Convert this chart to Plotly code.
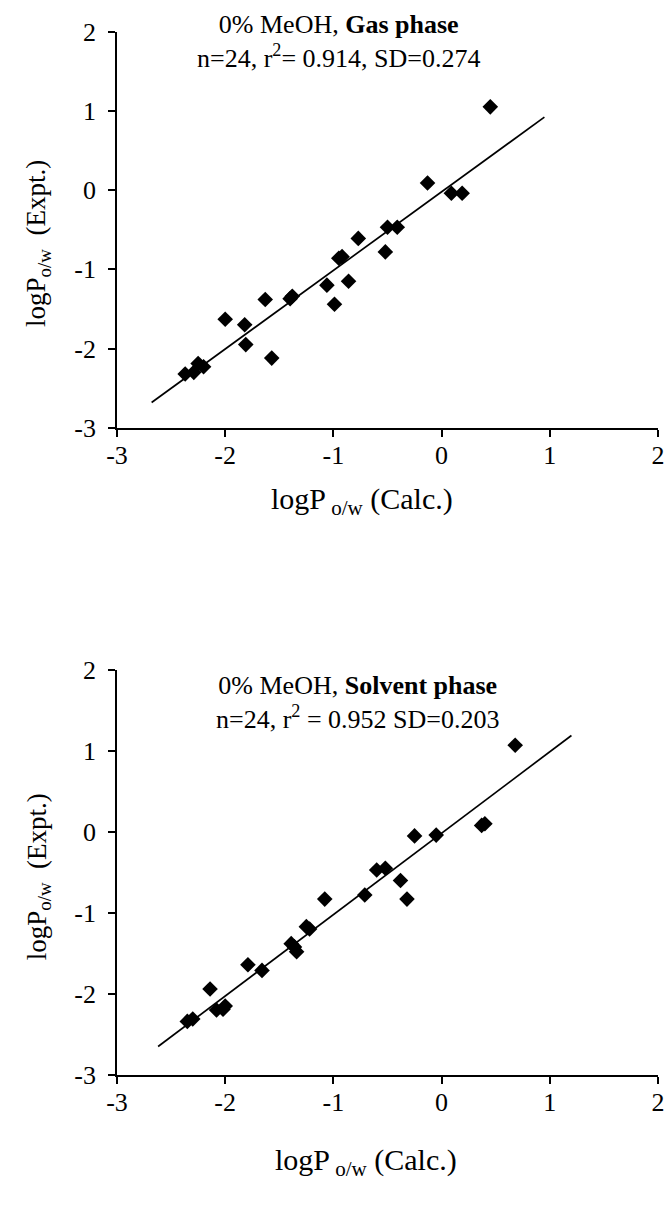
import plotly.graph_objects as go

# Gas phase model: calculated vs experimental logP(o/w), 0% MeOH
gas_calc = [0.45, -0.13, 0.09, 0.19, -0.50, -0.41, -0.77, -0.92, -0.95, -0.52,
            -0.86, -1.06, -0.99, -1.40, -1.38, -1.63, -2.00, -1.82, -1.81, -1.57,
            -2.37, -2.29, -2.25, -2.20]
gas_expt = [1.05, 0.09, -0.04, -0.04, -0.47, -0.47, -0.61, -0.84, -0.86, -0.78,
            -1.15, -1.20, -1.44, -1.37, -1.34, -1.38, -1.63, -1.70, -1.95, -2.12,
            -2.32, -2.30, -2.19, -2.23]
gas_fit_x = [-2.68, 0.95]
gas_fit_y = [-2.68, 0.92]

# Solvent phase model
sol_calc = [0.68, 0.40, 0.37, -0.25, -0.05, -0.60, -0.52, -0.38, -0.32, -0.71,
            -1.08, -1.22, -1.25, -1.39, -1.34, -1.36, -1.79, -1.66, -2.14, -2.08,
            -2.00, -2.02, -2.30, -2.35]
sol_expt = [1.07, 0.10, 0.08, -0.05, -0.04, -0.47, -0.45, -0.60, -0.83, -0.78,
            -0.83, -1.20, -1.17, -1.38, -1.48, -1.42, -1.64, -1.71, -1.94, -2.20,
            -2.15, -2.19, -2.31, -2.34]
sol_fit_x = [-2.62, 1.20]
sol_fit_y = [-2.65, 1.19]

tick_vals = [-3, -2, -1, 0, 1, 2]
tick_text = ["-3", "-2", "-1", "0", "1", "2"]

W, H = 668, 1207
ML, MR = 116.5, 10
PW = W - ML - MR

SERIF = "Liberation Serif, Times New Roman, serif"


def py(pix):
    return 1 - pix / H


def px(pix):
    return (pix - ML) / PW


fig = go.Figure()

panels = [
    (gas_calc, gas_expt, gas_fit_x, gas_fit_y, "x", "y"),
    (sol_calc, sol_expt, sol_fit_x, sol_fit_y, "x2", "y2"),
]
for cx, ey, fx, fy, xa, ya in panels:
    fig.add_trace(go.Scatter(x=fx, y=fy, mode="lines",
                             line=dict(color="black", width=1.7),
                             xaxis=xa, yaxis=ya, showlegend=False,
                             hoverinfo="skip"))
    fig.add_trace(go.Scatter(x=cx, y=ey, mode="markers",
                             marker=dict(symbol="diamond", size=12, color="black"),
                             xaxis=xa, yaxis=ya, showlegend=False))

axis_common = dict(
    range=[-3, 2], tickvals=tick_vals, ticktext=tick_text,
    showline=True, linecolor="black", linewidth=1.8,
    ticks="outside", ticklen=7, tickwidth=1.6, tickcolor="black",
    showgrid=False, zeroline=False,
    tickfont=dict(family=SERIF, size=26, color="black"),
)

top_dom = [py(424), py(18)]
bot_dom = [py(1087), py(672)]

fig.update_layout(
    width=W, height=H,
    margin=dict(l=ML, r=MR, t=0, b=0),
    paper_bgcolor="white", plot_bgcolor="white",
    xaxis=dict(axis_common, domain=[0, 1], anchor="y", ticklabelstandoff=-4),
    yaxis=dict(axis_common, domain=top_dom, anchor="x", ticklabelstandoff=7),
    xaxis2=dict(axis_common, domain=[0, 1], anchor="y2", ticklabelstandoff=-4),
    yaxis2=dict(axis_common, domain=bot_dom, anchor="x2", ticklabelstandoff=7),
)

ann = []


def label(text, x, y, size=28, angle=0, yanchor="middle"):
    ann.append(dict(text=text, x=x, y=y, xref="paper", yref="paper",
                    showarrow=False, textangle=angle,
                    xanchor="center", yanchor=yanchor,
                    font=dict(family=SERIF, size=size, color="black")))


# Panel titles (two lines each)
label("0% MeOH, <b>Gas phase</b><br>n=24, r<sup>2</sup>= 0.914, SD=0.274",
      px(338), py(-6), size=26, yanchor="top")
label("0% MeOH, <b>Solvent phase</b><br>n=24, r<sup>2</sup> = 0.952 SD=0.203",
      px(357), py(705), size=26)

# Axis titles
label("logP<sub> o/w</sub> (Calc.)", px(362), py(499), size=30)
label("logP<sub> o/w</sub> (Calc.)", px(366), py(1176), size=30)
label("logP<sub>o/w</sub>  (Expt.)", px(38), py(235), size=27, angle=-90)
label("logP<sub>o/w</sub>  (Expt.)", px(38), py(884), size=27, angle=-90)

fig.update_layout(annotations=ann)

fig.write_html("out.html")
